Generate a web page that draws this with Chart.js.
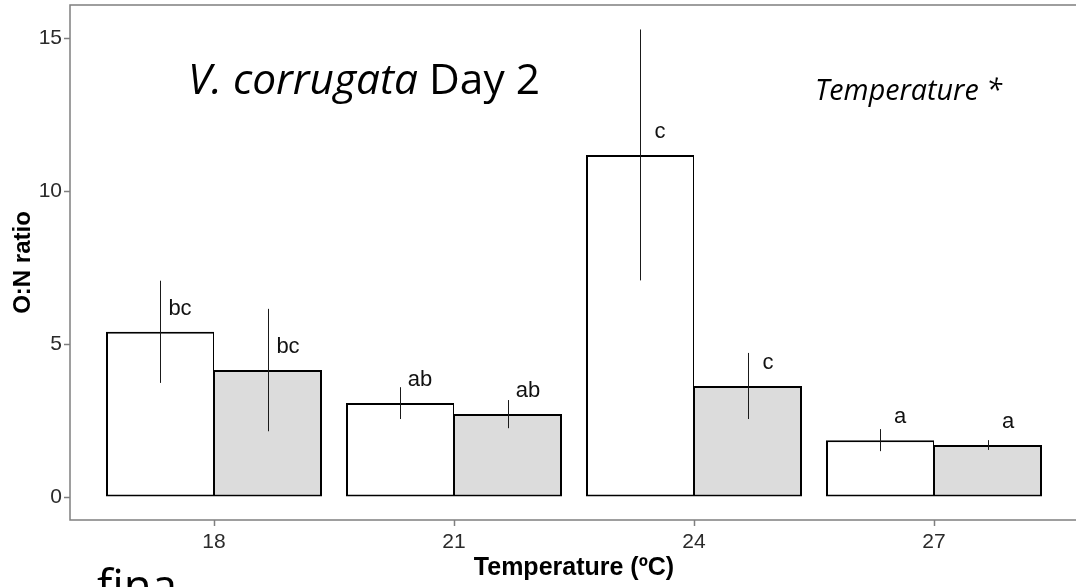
<!DOCTYPE html>
<html><head><meta charset="utf-8">
<script src="https://cdn.jsdelivr.net/npm/chart.js@4/dist/chart.umd.min.js"></script>
<style>
html,body{margin:0;padding:0;overflow:hidden;background:#fff;width:1076px;height:587px}
#wrap{position:absolute;left:0;top:0;width:1080px;height:587px}
</style>
</head><body><div id="wrap"><canvas id="c" width="1080" height="587"></canvas></div>
<script>
// ---- data ----
const categories = ['18', '21', '24', '27'];
const seriesNames = ['Treatment 1', 'Treatment 2'];
const whiteMeans = [5.40, 3.07, 11.18, 1.86];
const whiteErr   = [1.67, 0.52, 4.10, 0.36];
const greyMeans  = [4.15, 2.71, 3.63, 1.70];
const greyErr    = [2.00, 0.46, 1.08, 0.16];
const whiteLetters = ['bc', 'ab', 'c', 'a'];
const greyLetters  = ['bc', 'ab', 'c', 'a'];
const yTicks = [0, 5, 10, 15];

const errs = [whiteErr, greyErr];
const means = [whiteMeans, greyMeans];
const letters = [whiteLetters, greyLetters];

const AXIS = '#7f7f7f';
const SANS = "'Liberation Sans', Arial, sans-serif";
const ANN = "'Open Sans', sans-serif";

const toPoints = arr => arr.map((v, i) => ({x: i, y: v}));

const overlay = {
  id: 'overlay',
  beforeDatasetsDraw(chart) {
    const {ctx, chartArea: a} = chart;
    ctx.save();
    ctx.strokeStyle = AXIS;
    ctx.lineWidth = 1.5;
    ctx.strokeRect(a.left, a.top, a.right - a.left, a.bottom - a.top);
    ctx.restore();
  },
  afterDatasetsDraw(chart) {
    const {ctx} = chart;
    const ys = chart.scales.y;
    ctx.save();
    chart.data.datasets.forEach((ds, di) => {
      const meta = chart.getDatasetMeta(di);
      meta.data.forEach((bar, j) => {
        const m = means[di][j], e = errs[di][j];
        ctx.strokeStyle = '#1a1a1a';
        ctx.lineWidth = 1;
        const x = Math.round(bar.x) + 0.5;
        ctx.beginPath();
        ctx.moveTo(x, ys.getPixelForValue(m + e));
        ctx.lineTo(x, ys.getPixelForValue(m - e));
        ctx.stroke();
        ctx.fillStyle = '#111';
        ctx.font = '22px ' + SANS;
        ctx.textAlign = 'center';
        ctx.textBaseline = 'alphabetic';
        ctx.fillText(letters[di][j], bar.x + 20, ys.getPixelForValue(m) - 17);
      });
    });
    ctx.restore();
  },
  afterDraw(chart) {
    const {ctx, chartArea: a} = chart;
    const xs = chart.scales.x, ys = chart.scales.y;
    ctx.save();
    // axis tick marks
    ctx.strokeStyle = AXIS;
    ctx.lineWidth = 1.5;
    ctx.beginPath();
    categories.forEach((c, i) => {
      const px = Math.round(xs.getPixelForValue(i)) + 0.5;
      ctx.moveTo(px, a.bottom);
      ctx.lineTo(px, a.bottom + 6);
    });
    yTicks.forEach(v => {
      const py = Math.round(ys.getPixelForValue(v)) + 0.5;
      ctx.moveTo(a.left, py);
      ctx.lineTo(a.left - 6, py);
    });
    ctx.stroke();

    ctx.fillStyle = '#000';
    ctx.textBaseline = 'alphabetic';
    ctx.textAlign = 'left';
    // Title: "V. corrugata Day 2"
    const it = 'V. corrugata', rest = ' Day 2';
    ctx.font = 'italic 100px ' + ANN;
    const w1 = ctx.measureText(it).width;
    ctx.font = '100px ' + ANN;
    const w2 = ctx.measureText(rest).width;
    const s = 100 * 352 / (w1 + w2);
    ctx.font = 'italic ' + s + 'px ' + ANN;
    ctx.fillText(it, 188, 94);
    ctx.font = s + 'px ' + ANN;
    ctx.fillText(rest, 188 + w1 * s / 100, 94);
    // "Temperature *"
    const t2 = 'Temperature *';
    ctx.font = 'italic 100px ' + ANN;
    const s2 = 100 * 187 / ctx.measureText(t2).width;
    ctx.font = 'italic ' + s2 + 'px ' + ANN;
    ctx.fillText(t2, 815, 100);
    // stray text at bottom
    const t3 = 'fina';
    ctx.font = '100px ' + ANN;
    const s3 = 100 * 80 / ctx.measureText(t3).width;
    ctx.font = s3 + 'px ' + ANN;
    ctx.fillText(t3, 97, 567 + s3 * 0.76);
    ctx.restore();
  }
};

new Chart(document.getElementById('c').getContext('2d'), {
  type: 'bar',
  data: {
    datasets: [
      {label: seriesNames[0], data: toPoints(whiteMeans), backgroundColor: '#ffffff', borderColor: '#000',
       borderWidth: {top: 2, left: 2, bottom: 2, right: 1}, borderSkipped: false,
       categoryPercentage: 0.9, barPercentage: 1.0},
      {label: seriesNames[1], data: toPoints(greyMeans), backgroundColor: '#dcdcdc', borderColor: '#000',
       borderWidth: {top: 2, left: 1, bottom: 2, right: 2}, borderSkipped: false,
       categoryPercentage: 0.9, barPercentage: 1.0}
    ]
  },
  options: {
    responsive: false, animation: false, devicePixelRatio: 1,
    layout: {padding: {top: 5, right: 2, left: 0, bottom: 0}},
    plugins: {legend: {display: false}, tooltip: {enabled: false}},
    scales: {
      x: {
        type: 'linear', min: -0.6, max: 3.6, offset: false,
        afterBuildTicks: sc => { sc.ticks = categories.map((_, i) => ({value: i})); },
        afterFit: sc => { sc.height = 67; sc.paddingLeft = 0; sc.paddingRight = 0; },
        ticks: {callback: v => categories[v], font: {family: SANS, size: 21}, color: '#2a2a2a', padding: 10, maxRotation: 0},
        grid: {offset: false, drawOnChartArea: false, drawTicks: false, tickLength: 6},
        border: {display: false},
        title: {display: true, text: 'Temperature (ºC)', color: '#000',
                font: {family: SANS, size: 25, weight: 'bold'}, padding: {top: 0, bottom: 4}}
      },
      y: {
        type: 'linear', min: -0.75, max: 16.08,
        afterBuildTicks: sc => { sc.ticks = yTicks.map(v => ({value: v})); },
        afterFit: sc => { sc.width = 70; sc.paddingTop = 0; sc.paddingBottom = 0; },
        ticks: {font: {family: SANS, size: 21}, color: '#2a2a2a', padding: 8},
        grid: {offset: false, drawOnChartArea: false, drawTicks: false, tickLength: 6},
        border: {display: false},
        title: {display: true, text: 'O:N ratio', color: '#000',
                font: {family: SANS, size: 24, weight: 'bold'}, padding: {top: 9, bottom: 0}}
      }
    }
  },
  plugins: [overlay]
});
</script>
</body></html>
